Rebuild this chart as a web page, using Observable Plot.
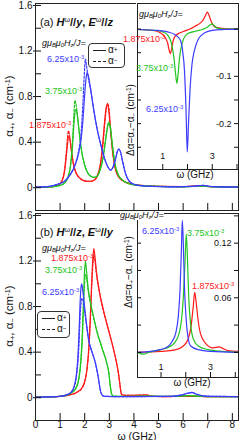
<!DOCTYPE html>
<html><head><meta charset="utf-8">
<script src="https://cdn.jsdelivr.net/npm/d3@7"></script>
<script src="https://cdn.jsdelivr.net/npm/@observablehq/plot@0.6"></script>
<style>
html,body{margin:0;padding:0;background:#fff;}
#wrap{position:relative;width:240px;height:440px;overflow:hidden;font-family:"Liberation Sans",Arial,Helvetica,sans-serif;color:#111;}
#wrap svg{position:absolute;}
.lab{position:absolute;white-space:nowrap;line-height:1;font-size:9px;}
.lab sup,.rot sup{font-size:0.65em;vertical-align:0.5em;line-height:0;}
.lab sub,.rot sub{font-size:0.65em;vertical-align:-0.25em;line-height:0;}
.rot{position:absolute;white-space:nowrap;line-height:1;transform:translate(-50%,-50%) rotate(-90deg);}
.ctr{position:absolute;white-space:nowrap;line-height:1;transform:translate(-50%,-50%);}
.leg{position:absolute;border:1px solid #333;border-radius:4px;background:#fff;box-sizing:border-box;font-size:10px;}
.leg .row{position:absolute;left:4px;height:10px;line-height:10px;display:flex;align-items:center;}
.leg .sw{display:inline-block;width:13px;height:0;border-top:1.2px solid #222;margin-right:2px;}
.leg .sw.d{border-top-style:dashed;}
.leg sub{font-size:0.65em;vertical-align:-0.25em;line-height:0;}
</style></head><body><div id="wrap"></div>
<script>
// ---------- data ----------
const xTicks = [0,1,2,3,4,5,6,7,8];
const yLabelTicks = [0,0.4,0.8,1.2,1.6];
const yMinorTicks = [0,0.2,0.4,0.6,0.8,1.0,1.2,1.4,1.6];
const insetXTicks = [1,2,3,4];
const insetXLabels = [1,3];
const insetATicks = [0,-0.05,-0.1,-0.15,-0.2,-0.25];
const insetALabels = [-0.1,-0.2];
const insetBTicks = [0,0.03,0.06,0.09,0.12,0.15];
const insetBLabels = [0.06,0.12];

// panel (a): H//y, E//z   [omega (GHz), alpha (cm^-1)]
const redPlusA = [[0,0.004],[0.5,0.007],[0.8,0.014],[1.0,0.035],[1.1,0.07],[1.18,0.14],[1.25,0.27],[1.3,0.38],[1.35,0.45],[1.4,0.42],[1.46,0.32],[1.54,0.21],[1.65,0.13],[1.8,0.085],[2.0,0.06],[2.2,0.055],[2.4,0.07],[2.52,0.11],[2.62,0.19],[2.72,0.36],[2.8,0.56],[2.87,0.7],[2.92,0.73],[2.98,0.67],[3.05,0.5],[3.13,0.32],[3.24,0.17],[3.4,0.09],[3.6,0.055],[3.9,0.033],[4.3,0.02],[5.0,0.012],[6.0,0.01],[6.6,0.016],[7.1,0.01],[8.25,0.008]];
const redMinusA = [[0,0.004],[0.5,0.007],[0.8,0.015],[1.0,0.04],[1.1,0.08],[1.18,0.16],[1.25,0.31],[1.3,0.44],[1.34,0.5],[1.39,0.45],[1.46,0.33],[1.54,0.21],[1.65,0.13],[1.8,0.085],[2.0,0.06],[2.2,0.055],[2.4,0.068],[2.52,0.105],[2.62,0.175],[2.72,0.33],[2.8,0.52],[2.87,0.68],[2.93,0.74],[2.99,0.69],[3.05,0.52],[3.13,0.33],[3.24,0.17],[3.4,0.09],[3.6,0.055],[3.9,0.033],[4.3,0.02],[5.0,0.012],[6.0,0.01],[6.6,0.016],[7.1,0.01],[8.25,0.008]];
const greenPlusA = [[0,0.004],[0.6,0.007],[1.0,0.02],[1.2,0.045],[1.32,0.09],[1.42,0.18],[1.5,0.35],[1.56,0.55],[1.61,0.67],[1.65,0.69],[1.7,0.64],[1.77,0.5],[1.86,0.34],[1.97,0.22],[2.1,0.14],[2.25,0.1],[2.37,0.09],[2.5,0.1],[2.62,0.15],[2.74,0.26],[2.84,0.41],[2.92,0.53],[2.98,0.575],[3.04,0.53],[3.12,0.38],[3.22,0.22],[3.35,0.12],[3.55,0.065],[3.8,0.035],[4.2,0.02],[5.0,0.011],[6.0,0.008],[6.7,0.013],[7.2,0.008],[8.25,0.006]];
const greenMinusA = [[0,0.004],[0.6,0.007],[1.0,0.021],[1.2,0.048],[1.32,0.1],[1.42,0.2],[1.5,0.4],[1.56,0.64],[1.6,0.765],[1.64,0.74],[1.7,0.64],[1.77,0.5],[1.86,0.34],[1.97,0.22],[2.1,0.14],[2.25,0.1],[2.37,0.09],[2.5,0.1],[2.62,0.15],[2.74,0.25],[2.84,0.4],[2.92,0.52],[2.98,0.565],[3.04,0.535],[3.12,0.39],[3.22,0.22],[3.35,0.12],[3.55,0.065],[3.8,0.035],[4.2,0.02],[5.0,0.011],[6.0,0.008],[6.7,0.013],[7.2,0.008],[8.25,0.006]];
const bluePlusA = [[0,0.005],[0.5,0.01],[0.9,0.03],[1.2,0.06],[1.4,0.11],[1.6,0.19],[1.75,0.3],[1.85,0.42],[1.93,0.6],[2.0,0.82],[2.06,0.97],[2.1,1.01],[2.16,0.97],[2.25,0.85],[2.37,0.68],[2.5,0.52],[2.64,0.39],[2.8,0.26],[2.95,0.18],[3.05,0.155],[3.15,0.18],[3.25,0.25],[3.33,0.32],[3.39,0.34],[3.46,0.31],[3.55,0.22],[3.65,0.13],[3.8,0.06],[4.0,0.03],[4.4,0.015],[5.5,0.008],[6.4,0.012],[6.8,0.02],[7.2,0.01],[8.25,0.006]];
const blueMinusA = [[0,0.005],[0.5,0.01],[0.9,0.031],[1.2,0.062],[1.4,0.115],[1.6,0.2],[1.75,0.32],[1.85,0.47],[1.93,0.75],[1.98,0.98],[2.03,1.13],[2.08,1.06],[2.15,0.96],[2.25,0.85],[2.37,0.68],[2.5,0.52],[2.64,0.39],[2.8,0.26],[2.95,0.18],[3.05,0.155],[3.15,0.18],[3.25,0.25],[3.33,0.32],[3.39,0.34],[3.46,0.31],[3.55,0.22],[3.65,0.13],[3.8,0.06],[4.0,0.03],[4.4,0.015],[5.5,0.008],[6.4,0.012],[6.8,0.02],[7.2,0.01],[8.25,0.006]];

// inset (a): delta alpha
const redDeltaA = [[-0.02,-0.001],[0.6,-0.003],[0.9,-0.008],[1.1,-0.018],[1.2,-0.03],[1.27,-0.047],[1.31,-0.052],[1.36,-0.042],[1.42,-0.025],[1.5,-0.015],[1.7,-0.008],[1.9,-0.004],[2.1,0.0],[2.3,0.006],[2.5,0.012],[2.62,0.018],[2.72,0.028],[2.8,0.036],[2.86,0.03],[2.95,0.017],[3.05,0.007],[3.2,0.003],[3.5,0.001],[4.06,0]];
const greenDeltaA = [[-0.02,-0.001],[0.7,-0.003],[1.0,-0.006],[1.2,-0.013],[1.35,-0.03],[1.45,-0.06],[1.52,-0.095],[1.57,-0.115],[1.62,-0.095],[1.68,-0.06],[1.76,-0.035],[1.85,-0.02],[2.0,-0.01],[2.3,-0.005],[2.6,-0.001],[2.8,0.004],[2.92,0.009],[3.0,0.011],[3.08,0.007],[3.2,0.002],[3.5,0],[4.06,0]];
const blueDeltaA = [[-0.02,-0.001],[0.8,-0.003],[1.2,-0.006],[1.5,-0.012],[1.7,-0.022],[1.8,-0.045],[1.88,-0.09],[1.94,-0.17],[1.99,-0.26],[2.04,-0.2],[2.1,-0.13],[2.18,-0.075],[2.28,-0.045],[2.45,-0.02],[2.7,-0.008],[3.0,-0.003],[3.5,-0.001],[4.06,0]];

// panel (b): H//z, E//y
const redPlusB = [[0,0.004],[0.5,0.007],[1.0,0.012],[1.4,0.025],[1.7,0.05],[1.9,0.09],[2.02,0.16],[2.1,0.27],[2.17,0.45],[2.23,0.72],[2.28,1.0],[2.33,1.22],[2.37,1.31],[2.41,1.25],[2.48,1.1],[2.6,0.93],[2.75,0.78],[2.9,0.65],[3.05,0.53],[3.18,0.42],[3.3,0.3],[3.38,0.2],[3.44,0.1],[3.48,0.04],[3.55,0.022],[3.8,0.02],[4.2,0.022],[4.5,0.025],[4.7,0.015],[5.2,0.01],[6.3,0.012],[7.0,0.01],[8.25,0.01]];
const redMinusB = [[0,0.004],[0.5,0.007],[1.0,0.012],[1.4,0.025],[1.7,0.05],[1.9,0.088],[2.02,0.155],[2.1,0.26],[2.17,0.43],[2.23,0.68],[2.28,0.95],[2.33,1.16],[2.37,1.25],[2.41,1.21],[2.48,1.08],[2.6,0.92],[2.75,0.77],[2.9,0.645],[3.05,0.525],[3.18,0.415],[3.3,0.3],[3.38,0.2],[3.44,0.1],[3.48,0.04],[3.55,0.022],[3.8,0.02],[4.2,0.022],[4.5,0.024],[4.7,0.015],[5.2,0.01],[6.3,0.012],[7.0,0.01],[8.25,0.01]];
const greenPlusB = [[0,0.004],[0.5,0.007],[1.0,0.012],[1.3,0.025],[1.5,0.05],[1.65,0.09],[1.76,0.17],[1.84,0.32],[1.9,0.55],[1.95,0.85],[1.99,1.1],[2.03,1.2],[2.07,1.12],[2.14,0.96],[2.25,0.82],[2.38,0.69],[2.5,0.58],[2.7,0.44],[2.9,0.3],[2.98,0.22],[3.03,0.12],[3.08,0.045],[3.15,0.015],[3.6,0.012],[4.5,0.014],[5.5,0.011],[6.2,0.018],[7.0,0.01],[8.25,0.009]];
const greenMinusB = [[0,0.004],[0.5,0.007],[1.0,0.012],[1.3,0.025],[1.5,0.048],[1.65,0.085],[1.76,0.16],[1.84,0.3],[1.9,0.5],[1.95,0.77],[1.99,0.98],[2.03,1.08],[2.07,1.06],[2.14,0.94],[2.25,0.81],[2.38,0.685],[2.5,0.575],[2.7,0.44],[2.9,0.3],[2.98,0.22],[3.03,0.12],[3.08,0.045],[3.15,0.015],[3.6,0.012],[4.5,0.014],[5.5,0.011],[6.2,0.018],[7.0,0.01],[8.25,0.009]];
const bluePlusB = [[0,0.004],[0.5,0.007],[1.0,0.012],[1.25,0.025],[1.45,0.05],[1.57,0.1],[1.66,0.2],[1.72,0.35],[1.77,0.58],[1.81,0.82],[1.85,0.97],[1.88,1.0],[1.91,0.96],[1.97,0.85],[2.05,0.69],[2.17,0.5],[2.3,0.4],[2.44,0.3],[2.55,0.18],[2.63,0.07],[2.7,0.025],[2.8,0.012],[3.5,0.01],[5.5,0.012],[5.9,0.022],[6.2,0.04],[6.35,0.047],[6.55,0.03],[6.9,0.014],[8.25,0.01]];
const blueMinusB = [[0,0.004],[0.5,0.007],[1.0,0.012],[1.25,0.025],[1.45,0.048],[1.57,0.095],[1.66,0.18],[1.72,0.3],[1.77,0.48],[1.81,0.7],[1.85,0.83],[1.88,0.87],[1.91,0.87],[1.97,0.8],[2.05,0.67],[2.17,0.495],[2.3,0.4],[2.44,0.3],[2.55,0.18],[2.63,0.07],[2.7,0.025],[2.8,0.012],[3.5,0.01],[5.5,0.012],[5.9,0.022],[6.2,0.04],[6.35,0.045],[6.55,0.03],[6.9,0.014],[8.25,0.01]];

// inset (b): delta alpha
const redDeltaB = [[0.05,0],[1.0,0.001],[1.6,0.003],[1.9,0.007],[2.1,0.015],[2.22,0.03],[2.3,0.05],[2.36,0.066],[2.42,0.055],[2.5,0.035],[2.6,0.02],[2.8,0.01],[3.1,0.005],[3.35,0.006],[3.45,0.005],[3.7,0.002],[4.13,0.001]];
const greenDeltaB = [[0.05,0],[0.3,-0.002],[0.5,0],[1.0,0.003],[1.4,0.007],[1.65,0.015],[1.8,0.03],[1.9,0.06],[1.97,0.1],[2.02,0.13],[2.06,0.11],[2.12,0.06],[2.2,0.03],[2.3,0.015],[2.5,0.007],[2.9,0.003],[3.5,0.001],[4.13,0]];
const blueDeltaB = [[0.05,0],[0.8,0.002],[1.2,0.005],[1.45,0.012],[1.6,0.022],[1.7,0.04],[1.77,0.07],[1.82,0.11],[1.86,0.145],[1.9,0.12],[1.95,0.07],[2.02,0.035],[2.1,0.015],[2.2,0.007],[2.5,0.003],[3.0,0.001],[4.13,0]];

// ---------- drawing ----------
const RED = "#ff1a1a", GREEN = "#22c422", BLUE = "#3c3cff";
const FONT = "'Liberation Sans', Arial, Helvetica, sans-serif";
const wrap = document.getElementById("wrap");

function curve(pts, color, dash) {
  return Plot.line(pts, {x: d => d[0], y: d => d[1], stroke: color, strokeWidth: 1.2,
    strokeDasharray: dash ? "2.2,1.6" : null, curve: "monotone-x"});
}

function mainPanel(series, showX, height, marginBottom) {
  return Plot.plot({
    width: 240, height, marginLeft: 35, marginRight: 2, marginTop: 3, marginBottom,
    x: {domain: [0, 8.25]}, y: {domain: [-0.2, 1.617]},
    style: {background: "transparent", fontFamily: FONT, fontSize: "10px", color: "#111", overflow: "visible"},
    marks: [
      ...series,
      Plot.axisY(yMinorTicks, {tickSize: -6, fill: "none", label: null}),
      Plot.axisY(yLabelTicks, {tickSize: 2, tickPadding: 1, fontSize: 10, label: null,
        tickFormat: d => d === 0 ? "0" : d.toFixed(1)}),
      Plot.axisX(xTicks.slice(1), {tickSize: -7, fill: "none", label: null}),
      showX ? Plot.axisX(xTicks, {tickSize: 0, tickPadding: 0, fontSize: 10, label: null}) : null,
      Plot.frame({stroke: "#222"})
    ]
  });
}

function insetPanel(series, xd, yd, ticks, labels, h, xLabDy, fmt) {
  return Plot.plot({
    width: 103, height: h, marginLeft: 1, marginRight: 1, marginTop: 1, marginBottom: 1,
    x: {domain: xd}, y: {domain: yd},
    style: {background: "#fff", fontFamily: FONT, fontSize: "9px", color: "#111"},
    marks: [
      ...series,
      Plot.axisY(ticks, {anchor: "left", tickSize: -4, fill: "none", label: null}),
      Plot.axisY(ticks, {anchor: "right", tickSize: -5, fill: "none", label: null}),
      Plot.axisX(insetXTicks, {tickSize: -5, fill: "none", label: null}),
      Plot.text(labels, {y: d => d, frameAnchor: "right", dx: -7, textAnchor: "end", text: fmt, fontSize: 9}),
      Plot.text(insetXLabels, {x: d => d, frameAnchor: "bottom", dy: xLabDy, text: d => String(d), fontSize: 9}),
      Plot.frame({stroke: "#222"})
    ]
  });
}

function place(el, left, top) { el.style.left = left + "px"; el.style.top = top + "px"; wrap.appendChild(el); }

const mainA = mainPanel([
  curve(redPlusA, RED, false), curve(redMinusA, RED, true),
  curve(greenPlusA, GREEN, false), curve(greenMinusA, GREEN, true),
  curve(bluePlusA, BLUE, false), curve(blueMinusA, BLUE, true)
], false, 212, 2);
place(mainA, 0, 0);

const mainB = mainPanel([
  curve(redPlusB, RED, false), curve(redMinusB, RED, true),
  curve(greenPlusB, GREEN, false), curve(greenMinusB, GREEN, true),
  curve(bluePlusB, BLUE, false), curve(blueMinusB, BLUE, true)
], true, 230, 20);
place(mainB, 0, 210);

const insA = insetPanel([curve(redDeltaA, RED), curve(greenDeltaA, GREEN), curve(blueDeltaA, BLUE)],
  [-0.02, 4.06], [-0.297, 0.054], insetATicks, insetALabels, 168, -11, d => String(d));
place(insA, 136, 2);

const insB = insetPanel([curve(redDeltaB, RED), curve(greenDeltaB, GREEN), curve(blueDeltaB, BLUE)],
  [0.05, 4.13], [-0.0276, 0.1526], insetBTicks, insetBLabels, 166, -8, d => d.toFixed(2));
place(insB, 136, 212);

// ---------- text annotations ----------
const G = '<i>g</i>μ<sub>B</sub>μ<sub>0</sub><i>H<sub>z</sub></i>/<i>J</i>=';
function lab(html, left, top, opts = {}) {
  const d = document.createElement("div");
  d.className = opts.cls || "lab";
  d.innerHTML = html;
  if (opts.color) d.style.color = opts.color;
  if (opts.size) d.style.fontSize = opts.size + "px";
  if (opts.italic) d.style.fontStyle = "italic";
  if (opts.bg) d.style.background = opts.bg;
  place(d, left, top);
  return d;
}
const f3 = v => v + 'x10<sup>-3</sup>';

// panel (a)
lab('(a) <b><i>H</i></b><sup>ω</sup><b>//<i>y</i>, <i>E</i></b><sup>ω</sup><b>//<i>z</i></b>', 40, 17, {size: 11});
lab(G, 42, 39, {italic: true});
lab(f3('6.25'), 47, 55, {color: BLUE});
lab(f3('3.75'), 45, 87, {color: GREEN});
lab(f3('1.875'), 29, 121, {color: RED});
lab(G, 139, 10, {italic: true});
lab(f3('1.875'), 123, 35, {color: RED});
lab(f3('3.75'), 136, 64, {color: GREEN});
lab(f3('6.25'), 146, 105, {color: BLUE});
lab('ω (GHz)', 195, 175, {cls: "ctr", size: 10});
lab('Δα=α<sub>+</sub>−α<sub>−</sub> (cm<sup>-1</sup>)', 131, 120, {cls: "rot", size: 10});
lab('α<sub>+</sub>, α<sub>−</sub> (cm<sup>-1</sup>)', 10, 106, {cls: "rot", size: 11.5});

// panel (b)
lab('(b) <b><i>H</i></b><sup>ω</sup><b>//<i>z</i>, <i>E</i></b><sup>ω</sup><b>//<i>y</i></b>', 40, 227, {size: 11});
lab(G, 42, 244, {italic: true});
lab(f3('1.875'), 51, 254, {color: RED});
lab(f3('3.75'), 45, 266, {color: GREEN});
lab(f3('6.25'), 42, 288, {color: BLUE});
lab(G, 120, 211, {italic: true, bg: "#fff"});
lab(f3('6.25'), 142, 227, {color: BLUE});
lab(f3('3.75'), 187, 229, {color: GREEN});
lab(f3('1.875'), 192, 282, {color: RED});
lab('ω (GHz)', 192, 383, {cls: "ctr", size: 10});
lab('Δα=α<sub>+</sub>−α<sub>−</sub> (cm<sup>-1</sup>)', 129, 272, {cls: "rot", size: 10});
lab('α<sub>+</sub>, α<sub>−</sub> (cm<sup>-1</sup>)', 10, 316, {cls: "rot", size: 11.5});
lab('ω (GHz)', 137, 435.5, {cls: "ctr", size: 10.5});

// legends
function legend(left, top, w, h) {
  const d = document.createElement("div");
  d.className = "leg";
  d.style.width = w + "px"; d.style.height = h + "px";
  const gap = Math.floor((h - 2 - 20) / 3);
  d.innerHTML = '<div class="row" style="top:' + gap + 'px"><span class="sw"></span>α<sub>+</sub></div>' +
                '<div class="row" style="top:' + (2 * gap + 10) + 'px"><span class="sw d"></span>α<sub>−</sub></div>';
  place(d, left, top);
}
legend(88, 43, 37, 25);
legend(37, 311, 33, 27);
</script></body></html>
